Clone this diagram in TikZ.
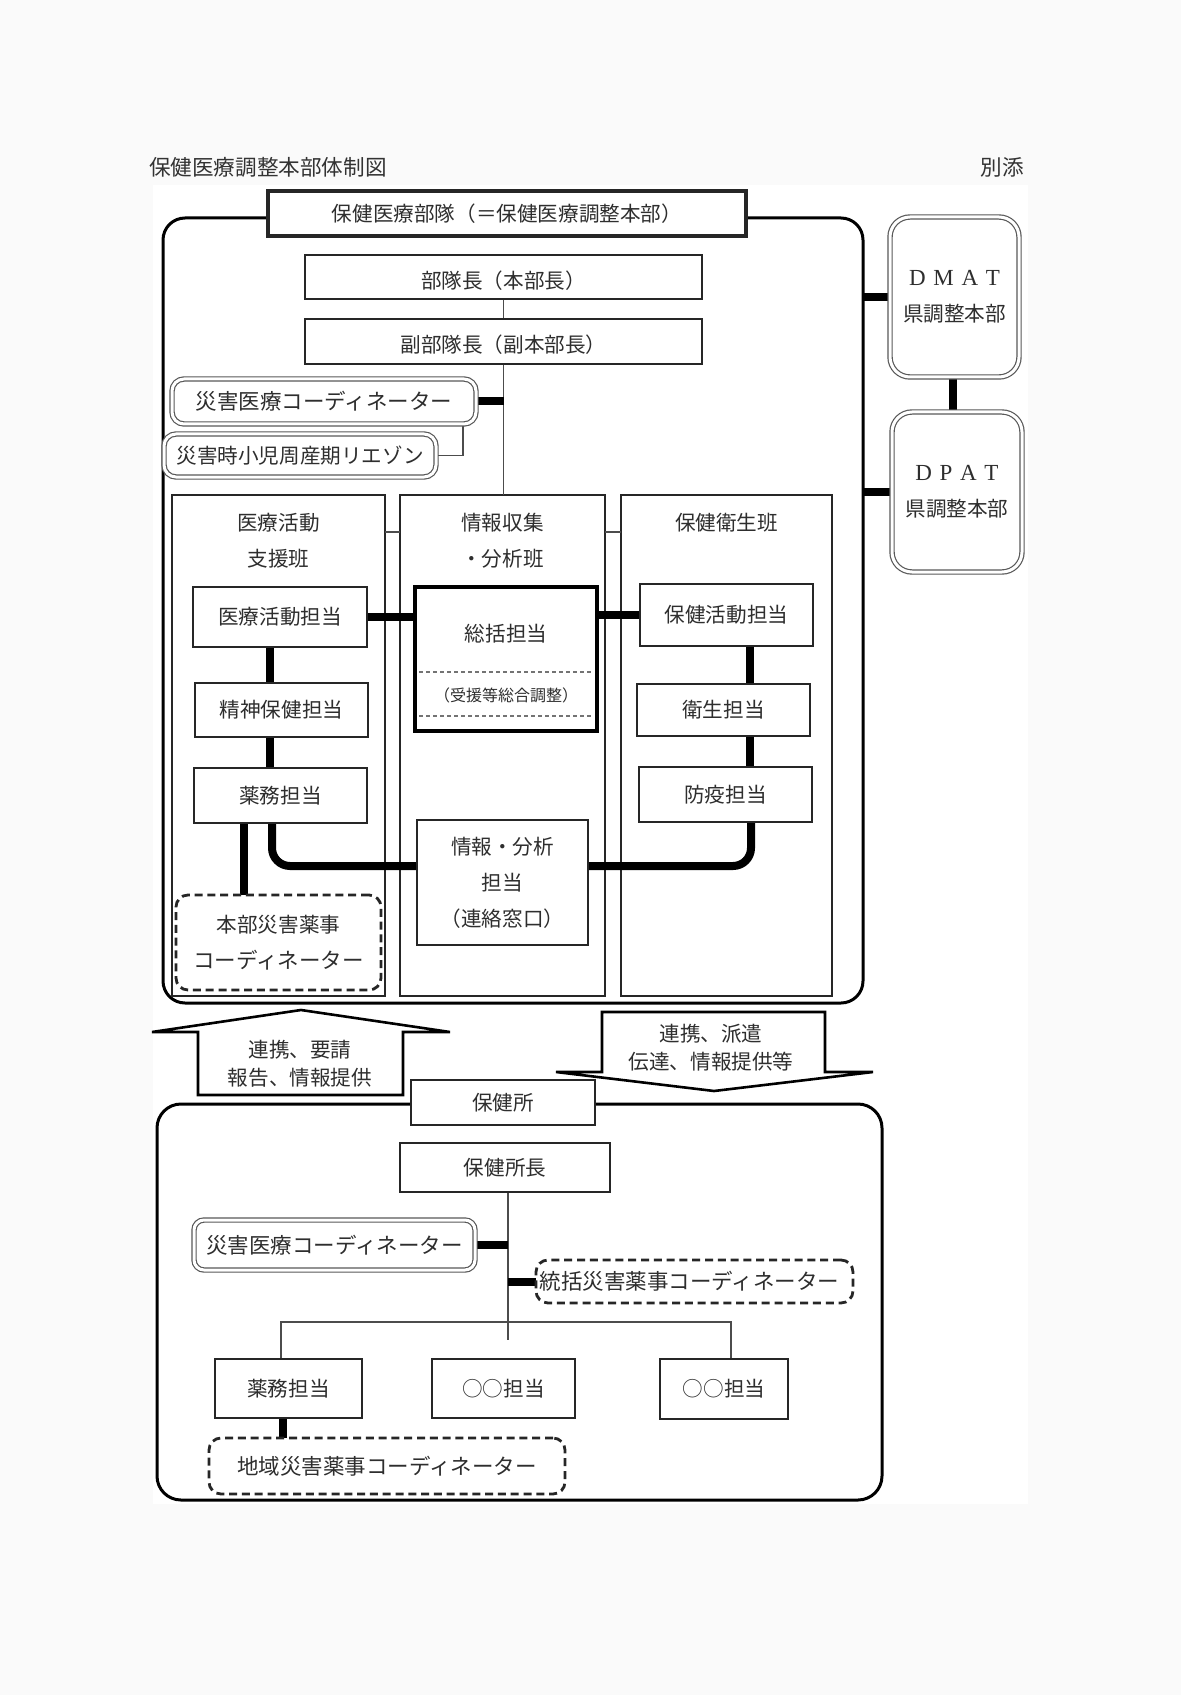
\documentclass[tikz,border=0pt]{standalone}
\usepackage{fontspec}
\setmainfont{Liberation Serif}
\newfontfamily\cjk{Noto Sans CJK JP}
\usetikzlibrary{calc}
\pgfdeclarelayer{back}\pgfdeclarelayer{mid}
\pgfsetlayers{back,mid,main}
\begin{document}
\begin{tikzpicture}[x=0.5pt,y=-0.5pt,
  every node/.style={inner sep=0pt, outer sep=0pt, text=black!82,
    font={\cjk\fontsize{10.3pt}{18pt}\selectfont}, align=center},
  sz/.style 2 args={minimum width=#1*0.5pt, minimum height=#2*0.5pt},
  box/.style={draw=black!85, line width=1pt, fill=white},
  heavybox/.style={draw=black, line width=2pt, fill=white},
  colbox/.style={draw=black!85, line width=0.9pt},
  dbl/.style={draw=black!65, double=white, double distance=1.5pt, line width=0.6pt, fill=white, rounded corners=#1},
  dbl/.default=5pt,
  dsh/.style={draw=black!85, line width=1.4pt, dash pattern=on 4pt off 2.4pt, fill=white, rounded corners=6pt},
  fine/.style={draw=black!70, line width=0.6pt},
  bar/.style={draw=black, line width=4pt},
  blockarrow/.style={draw=black, line width=1.3pt, fill=white, line join=miter},
  outerbox/.style={draw=black, line width=1.5pt, rounded corners=#1},
  smalltxt/.style={font={\cjk\fontsize{8pt}{10pt}\selectfont}},
  arrtxt/.style={font={\cjk\fontsize{10.3pt}{14pt}\selectfont}},
  katatxt/.style={font={\cjk\fontsize{10.75pt}{18pt}\selectfont}},
  lowtxt/.style={text height=1.23em, text depth=0.1em},
]
\useasboundingbox (0,0) rectangle (1181,1695);

\begin{pgfonlayer}{back}
\fill[black!2] (0,0) rectangle (1181,1695);
\fill[white] (153,185) rectangle (1028,1504);
\node[outerbox=11pt, sz={700}{785}] (outer) at (513,610.5) {};
\node[outerbox=12pt, sz={725}{396}] (outer2) at (519.5,1302) {};
\node[colbox, sz={213}{501}] (colA) at (278.5,745.5) {};
\node[colbox, sz={205}{501}] (colB) at (502.5,745.5) {};
\node[colbox, sz={211}{501}] (colC) at (726.5,745.5) {};
\end{pgfonlayer}

% titles
\node[font={\cjk\fontsize{10.8pt}{12pt}\selectfont}, anchor=west, text=black!80] (title) at (149,167) {保健医療調整本部体制図};
\node[font={\cjk\fontsize{10.8pt}{12pt}\selectfont}, anchor=east, text=black!80] (bettens) at (1024,167) {別添};

% upper part
\node[box, line width=1.6pt, sz={478}{45}] (head) at (507,213.5) {保健医療部隊（＝保健医療調整本部）};
\node[box, lowtxt, sz={397}{44}] (chief) at (503.5,277) {部隊長（本部長）};
\node[box, lowtxt, sz={397}{45}] (vice) at (503.5,341.5) {副部隊長（副本部長）};
\node[dbl=6pt, katatxt, sz={304}{45}] (dmc1) at (324,401.5) {災害医療コーディネーター};
\node[dbl=6pt, sz={272}{43}] (liaison) at (300,455.5) {災害時小児周産期リエゾン};

\node (hA) at (278.5,540.5) {医療活動\\支援班};
\node (hB) at (502.5,540.5) {情報収集\\・分析班};
\node (hC) at (726.5,523) {保健衛生班};

\node[box, sz={174}{60}] (iryo) at (280,617) {医療活動担当};
\node[box, sz={173}{54}] (seishin) at (281.5,710) {精神保健担当};
\node[box, sz={173}{55}] (yakumu1) at (280.5,795.5) {薬務担当};

\node[heavybox, sz={182}{144}] (sokatsu) at (506,659) {};
\node (sokatsuT) at (506,634) {総括担当};
\node[smalltxt] (juen) at (506,695) {（受援等総合調整）};
\draw[black!55, line width=0.6pt, dash pattern=on 2pt off 1.5pt] (419,672) -- (593,672);
\draw[black!55, line width=0.6pt, dash pattern=on 2pt off 1.5pt] (419,716) -- (593,716);

\node[box, sz={173}{62}] (hoken) at (726.5,615) {保健活動担当};
\node[box, sz={173}{52}] (eisei) at (723.5,710) {衛生担当};
\node[box, sz={173}{55}] (boeki) at (725.5,794.5) {防疫担当};
\node[box, sz={171}{125}] (joho) at (502.5,882.5) {情報・分析\\担当\\（連絡窓口）};
\node[dsh, sz={205}{95}] (hyaku) at (278.5,942.5) {本部災害薬事\\{\fontsize{10.75pt}{18pt}\selectfont コーディネーター}};

\node[dbl=10pt, sz={129}{160}] (dmat) at (954.5,297) {{\rmfamily\fontsize{11.5pt}{18pt}\selectfont D\,\,M\,\,A\,\,T}\\県調整本部};
\node[dbl=10pt, sz={130}{160}] (dpat) at (957,492) {{\rmfamily\fontsize{11.5pt}{18pt}\selectfont D\,\,P\,\,A\,\,T}\\県調整本部};

% block arrows
\draw[blockarrow] (198,1095) -- (198,1032) -- (152,1032) -- (301,1010) -- (450,1032) -- (403,1032) -- (403,1095) -- cycle;
\node[arrtxt] (upT) at (300,1064) {連携、要請\\報告、情報提供};
\draw[blockarrow] (602,1012) -- (825,1012) -- (825,1072) -- (873,1072) -- (714,1091) -- (556,1072) -- (602,1072) -- cycle;
\node[arrtxt] (dnT) at (711,1048) {連携、派遣\\伝達、情報提供等};

% lower part
\node[box, line width=1.3pt, sz={184}{45}] (hokenjo) at (503,1102.5) {保健所};
\node[box, line width=1.3pt, sz={210}{49}] (hcho) at (505,1167.5) {保健所長};
\node[dbl=5pt, katatxt, sz={281}{50}] (dmc2) at (334.5,1245) {災害医療コーディネーター};
\node[dsh, katatxt, sz={317}{43}, text width=155pt, align=left] (tokatsu) at (694.5,1281.5) {統括災害薬事コーディネーター};
\node[box, line width=1.3pt, sz={147}{59}] (yakumu2) at (288.5,1388.5) {薬務担当};
\node[box, line width=1.3pt, sz={143}{59}] (maru1) at (503.5,1388.5) {○○担当};
\node[box, line width=1.3pt, sz={128}{60}] (maru2) at (724,1389) {○○担当};
\node[dsh, katatxt, sz={356}{56}] (chiiki) at (387,1466) {地域災害薬事コーディネーター};

\coordinate (stemEnd) at (508,1340);
\coordinate (brL) at (281,1322);
\coordinate (brR) at (731,1322);

\begin{pgfonlayer}{mid}
\draw[fine] (chief.south) -- (vice.north);
\draw[fine] (vice.south) -- (vice.south |- colB.north);
\draw[bar] (dmc1.east) -- (dmc1.east -| vice.south);
\draw[fine] (liaison.east) -| ([xshift=-6.5pt]dmc1.south east);
\draw[fine] ([yshift=-18.5pt]colA.north east) -- ([yshift=-18.5pt]colB.north west);
\draw[fine] ([yshift=-18.5pt]colB.north east) -- ([yshift=-18.5pt]colC.north west);
\draw[bar] (iryo.east) -- (iryo.east -| sokatsu.west);
\draw[bar] (sokatsu.east |- hoken.west) -- (hoken.west);
\draw[bar] ([xshift=-5pt]iryo.south) -- ([xshift=-5pt]iryo.south |- seishin.north);
\draw[bar] ([xshift=-5.75pt]seishin.south) -- ([xshift=-5.75pt]seishin.south |- yakumu1.north);
\draw[bar] ([xshift=11.75pt]hoken.south) -- ([xshift=11.75pt]hoken.south |- eisei.north);
\draw[bar] ([xshift=13.25pt]eisei.south) -- ([xshift=13.25pt]eisei.south |- boeki.north);
\draw[bar] ([xshift=-18.25pt]yakumu1.south) -- ([xshift=-18.25pt]yakumu1.south |- hyaku.north);
\draw[bar, rounded corners=9pt] ([xshift=-4.25pt]yakumu1.south) |- ([yshift=8.25pt]joho.west);
\draw[bar, rounded corners=9pt] ([yshift=8.25pt]joho.east) -| ([xshift=12.75pt]boeki.south);
\draw[bar] (outer.east |- dmat.west) -- (dmat.west);
\draw[bar] (outer.east |- dpat.west) -- (dpat.west);
\draw[bar] ([xshift=-0.75pt]dmat.south) -- ([xshift=-0.75pt]dmat.south |- dpat.north);
\draw[fine] (hcho.south -| stemEnd) -- (stemEnd);
\draw[bar] (dmc2.east) -- (dmc2.east -| stemEnd);
\draw[bar] (tokatsu.west -| stemEnd) -- (tokatsu.west);
\draw[fine] (yakumu2.north -| brL) -- (brL) -- (brR) -- (maru2.north -| brR);
\draw[bar] ([xshift=-2.75pt]yakumu2.south) -- ([xshift=-2.75pt]yakumu2.south |- chiiki.north);
\end{pgfonlayer}
\end{tikzpicture}
\end{document}
